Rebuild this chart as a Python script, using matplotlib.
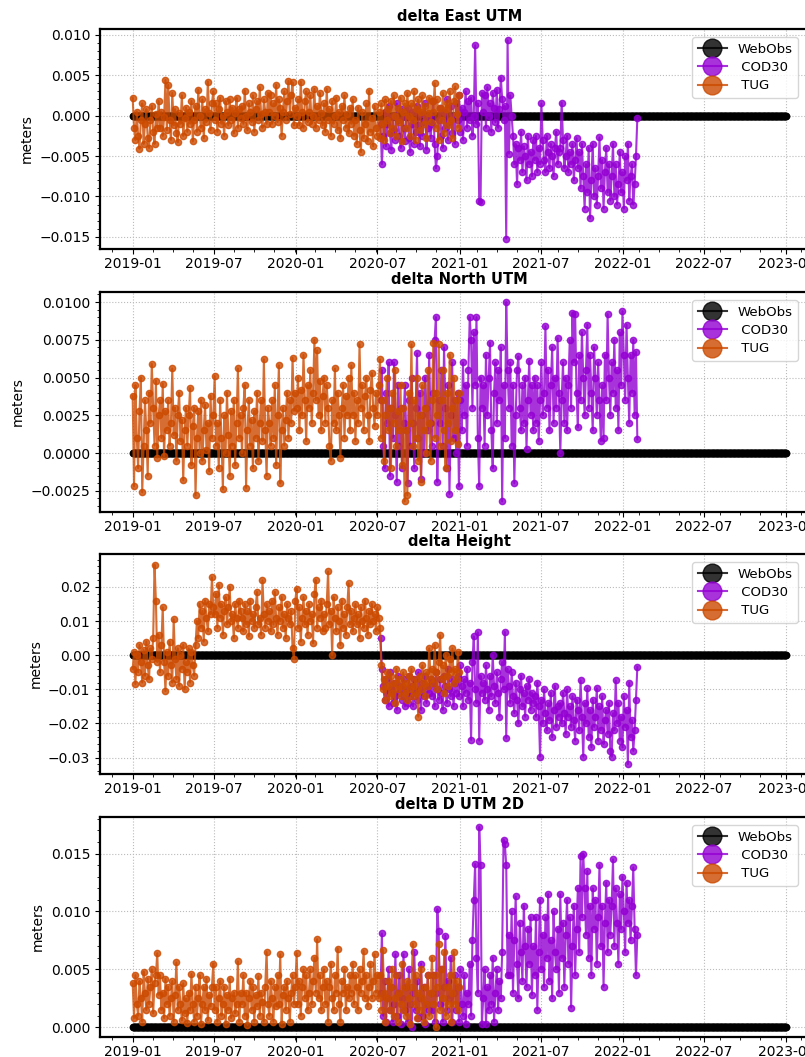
import matplotlib
matplotlib.use('Agg')
import matplotlib.pyplot as plt
import numpy as np
import pandas as pd
from matplotlib.ticker import AutoMinorLocator

# ---- data (millimetres, roughly every 3 days) ----
tug_start, tug_end = '2019-01-01', '2020-12-31'
cod_start, cod_end = '2020-07-08', '2022-02-02'
web_start, web_end = '2019-01-01', '2023-01-01'

tug_east = [
    2.2, -1.5, -3.0, 0.5, -2.5, -4.1, -0.5, 1.5, -3.5, -1.0, 0.8, -2.8, -4.0, -0.5, 1.2, -2.0, -3.5, 0.2, -1.5, 1.8,
    -1.5, 0.5, -2.5, -0.2, 4.4, -1.8, 3.8, -0.5, -3.0, 2.8, -1.2, 0.8, -2.2, -3.3, 0.3, -1.0, 2.5, -2.5, -0.3, 1.0,
    -2.0, 0.5, -1.0, 1.8, -3.2, -0.5, 1.2, -2.0, 3.2, 0.0, -1.5, 2.0, -2.8, 0.8, -0.8, 4.2, 0.3, -1.8, 1.5, 3.0,
    -0.5, 1.5, -2.0, 0.8, 2.2, -1.0, 0.0, -2.5, 1.8, 0.5, -1.2, 2.0, -0.5, 1.0, -2.2, 0.3, 2.2, -1.5, 0.8, -0.3,
    1.2, -1.0, 3.1, 0.0, -1.8, 1.5, 0.5, -0.8, 2.5, -2.0, 0.8, 1.8, -0.5, 3.5, 0.2, -1.5, 2.0, 0.5, -1.0, 2.8,
    0.5, 2.5, -1.0, 1.5, 0.0, 3.8, -0.8, 2.0, 1.0, -2.5, 0.5, 3.0, -0.5, 1.8, 4.3, 0.2, 2.5, 4.1, -1.2, 1.0,
    0.0, 2.0, -1.2, 4.2, 0.5, -1.5, 1.8, 3.0, -0.8, 0.5, 2.5, -1.0, 0.0, 3.3, -1.5, 1.2, -0.5, 2.8, 0.3, -1.2,
    1.5, -2.0, 3.3, -0.5, 0.8, -2.5, 1.8, -1.0, 0.0, 2.2, -1.8, 0.5, -2.8, 1.2, -0.5, 2.5, -1.5, 0.2, -2.2, 1.0,
    -1.0, 2.0, -2.5, -0.5, -3.5, 1.0, -1.8, -4.5, 0.5, -2.8, -1.0, 1.5, -3.2, 3.1, -2.0, -0.3, -3.8, 1.2, -1.5, -2.5,
    0.5, -2.8, 1.5, -1.0, -3.0, 2.0, -0.5, 0.8, -2.2, 1.8, -1.5, 2.5, 0.0, -2.5, 1.0, -0.8, 2.2, -3.2, 0.5, 1.5,
    -1.5, 2.8, 0.0, -2.5, 1.5, -0.5, 3.0, -3.0, 0.8, 2.0, -1.8, 0.5, 2.5, -1.0, 1.2, -2.8, 0.3, 2.2, -0.8, 1.8,
    0.5, 4.0, -1.5, 2.0, -3.0, 1.0, -0.5, 2.8, -2.2, 0.8, 1.5, -1.2, 3.0, -0.5, -2.8, 1.8, 3.6, 0.2, -1.5, 2.5]
cod_east = [
    -1.0, -6.0, -2.5, 0.5, -3.8, -1.0, 1.2, -2.2, -4.2, 0.0, -1.8, -3.0, 1.5, -0.5, -2.5, -4.0, 0.8, -1.5, -3.2,
    -0.2, 1.0, -2.8, -4.5, -1.0, 0.5, -3.5, -2.0, 1.2, -1.2, -3.8, 0.2, -2.5, -0.8, 1.5, -4.2, -1.5, 0.0, -2.8,
    -1.0, 1.8, -3.5, -6.5, -5.0, -0.5, 1.0, -2.5, -4.0, 0.5, -1.5, 2.0, -3.0, -0.8, 1.2, -2.2, 0.0, -3.5, 1.5,
    -0.5, 2.5, -2.0, 1.0, -3.0, 0.5, 3.0, -1.5, 1.8, -0.5, 2.2, -2.5, 0.0, 8.7, -1.0, 1.5, -10.5, -10.7, 2.8,
    0.5, 2.5, -1.5, 3.5, 0.0, 1.5, -2.0, 2.8, 1.0, -0.8, 3.2, -1.5, 0.8, 4.7, 2.0, -0.5, 1.2, -15.2, 9.3,
    -4.7, 2.5, 0.0, -2.5, -6.0, -3.5, -8.5, -4.0, -5.5, -2.0, -7.0, -3.8, -5.0, -8.0, -2.5, -6.0, -4.5, -7.5, -3.0,
    -5.5, -2.5, -7.0, -4.0, -6.0, 1.5, -3.0, -5.5, -7.0, -2.5, -4.5, -6.5, -3.5, -5.0, -7.5, -4.0, -2.0, -6.0, -4.5,
    -4.0, 1.6, -3.0, -6.5, -5.0, -2.5, -7.0, -4.5, -6.0, -3.5, -8.0, -5.5, -2.8, -6.5, -4.5, -9.0, -3.5, -7.5, -11.5,
    -6.0, -9.5, -4.0, -12.7, -8.0, -3.5, -10.0, -6.5, -11.0, -7.5, -2.7, -9.0, -5.5, -11.5, -7.0, -4.0, -9.5, -6.0, -10.5,
    -7.5, -3.5, -10.0, -6.0, -11.0, -8.5, -4.5, -9.5, -7.0, -11.5, -5.0, -8.0, -3.5, -10.5, -7.5, -6.0, -11.0, -8.5, -5.0, -0.3]

tug_north = [
    3.8, -2.2, 4.5, 1.0, -1.0, 2.8, 5.0, -2.6, 0.5, 3.5, 1.5, -1.5, 4.0, 2.0, 5.9, 3.0, 0.5, 4.8, -0.3, 2.5,
    3.5, 1.0, 4.6, -0.2, 2.8, 1.5, 3.5, 0.5, 2.0, 5.6, 1.2, 3.0, -0.5, 2.5, 4.0, 0.8, 2.2, -1.8, 1.5, 3.0,
    0.5, 2.5, 4.3, -0.8, 1.8, 3.0, -2.8, 1.0, 2.8, 0.0, 3.5, -0.5, 1.5, 3.2, 0.2, 2.0, -1.2, 3.8, 1.0, 2.5,
    5.1, 0.5, 2.0, -1.0, 3.5, 1.0, -2.4, 2.5, 0.0, 4.0, 1.2, -1.5, 2.8, 0.5, 3.5, -0.8, 2.0, 5.6, 1.0, 2.5,
    0.0, 3.0, 4.5, -2.3, 1.5, 3.5, 0.5, 2.2, -1.0, 2.8, 1.0, 4.0, -0.5, 2.0, 3.5, 0.8, 6.2, 1.5, -1.5, 3.0,
    2.0, 0.5, 3.5, 1.0, 4.5, -0.8, 2.5, 5.8, -2.0, 1.5, 3.0, 0.5, 2.2, 4.0, 1.0, 3.5, 2.0, 6.3, 2.8, 4.0,
    3.0, 5.0, 1.5, 4.2, 2.5, 6.5, 3.5, 0.8, 4.5, 3.0, 5.5, 2.0, 4.0, 7.5, 3.5, 6.8, 2.5, 4.8, 1.5, 3.8,
    5.0, 2.0, 4.5, 3.0, 0.5, -0.5, 3.5, 2.0, 5.6, 1.5, 4.0, 2.5, -0.3, 3.0, 4.5, 1.0, 3.8, 2.5, 5.0, 1.5,
    5.8, 2.5, 4.0, 0.8, 3.5, 2.0, 7.2, 3.0, 4.5, 1.5, 3.8, 5.0, 2.5, 0.8, 4.2, 5.3, 3.0, 1.8, 4.0, 2.5,
    4.5, 6.2, 1.0, 3.5, -0.5, 2.5, 5.0, 1.5, 3.0, -1.0, 4.0, 2.0, 5.5, 0.5, 2.8, 1.5, 4.5, -0.8, 3.0, -3.2,
    1.5, -2.8, 4.0, 2.0, 7.2, 0.5, 3.5, 1.0, 5.0, -0.5, 2.5, -1.9, 4.5, 1.5, 3.0, 0.0, 5.5, 2.0, -0.5, 3.5,
    7.3, 1.0, 4.0, 2.5, 7.2, 0.5, 3.5, 5.5, 1.5, -1.0, 4.0, 2.0, 6.5, 0.8, 3.0, 5.0, 1.5, 3.5, 0.6, 4.0]
cod_north = [
    3.5, 5.5, 0.5, -1.0, 4.0, 2.0, 6.0, -1.5, 3.0, 1.0, 6.0, 2.5, -1.9, 4.5, 0.5, 3.0, -1.0, 2.0, 4.5,
    1.5, -2.0, 3.5, 0.5, 5.0, 2.0, -1.0, 3.0, 6.6, 1.0, 4.0, -1.7, 2.5, 0.0, 5.0, 3.0, 1.5, 6.5, 2.0,
    0.5, 4.0, 7.5, 9.0, -1.9, 3.5, 2.0, 5.5, 0.5, 7.0, 3.0, -1.0, 4.5, -2.7, 2.5, 6.0, 1.0, 3.5, 0.0,
    4.0, -2.2, 3.5, 1.5, 6.0, 2.5, 4.5, 0.5, 5.5, 9.0, 7.5, 3.0, 8.0, 4.5, 9.0, 1.0, -2.2, 5.0, 3.0,
    4.5, 0.5, 6.5, 2.5, 5.0, 7.3, 1.5, -1.0, 4.0, 6.0, 2.0, 5.5, 3.5, 7.0, -3.2, 4.5, 1.0, 10.0, 5.5,
    3.0, 6.0, 0.5, 4.5, -2.0, 2.5, 5.5, 6.4, 3.0, 1.5, 4.5, 2.0, 5.0, 0.3, 3.5, 6.1, 2.5, 4.5, 1.5,
    5.0, 2.0, 4.5, 0.8, 3.5, 6.0, 2.5, 4.0, 8.4, 3.0, 5.5, 1.5, 4.5, 7.0, 2.0, 5.0, 3.0, 7.6, 4.0,
    0.0, 3.5, 6.0, 2.0, 5.0, 1.5, 4.5, 7.5, 3.0, 9.3, 6.0, 9.2, 4.0, 1.7, 6.5, 3.5, 8.0, 5.0, 2.5,
    5.5, 8.5, 3.0, 6.5, 4.0, 1.5, 7.0, 5.0, 2.5, 6.0, 3.5, 0.8, 4.5, 1.0, 6.5, 3.5, 9.2, 5.0, 2.5,
    6.0, 4.0, 7.5, 3.0, 5.5, 1.5, 8.0, 4.5, 9.4, 6.5, 3.5, 8.5, 5.0, 2.0, 6.5, 4.0, 7.5, 2.5, 6.7, 0.9]

tug_height = [
    -4, 1, -8.5, 0, -5, 3, -2, -8, 1.5, -6, 4, -3, -7, 2, -1, 5, 26.5, 16, -2, 6,
    -5, 3, 14, -2, -10.5, 1, -6, 4, -3, -8, 10.5, -1, -7, 2, -9, 0, -4, 3, -10, -2,
    -5, 2, -8, 1, -3, -6, 3, 10, 5, 15, 8, 13, 4, 16, 11, 7, 15, 12, 22.8, 14,
    12, 18, 8, 20.5, 11, 15, 6, 13, 17, 9, 14, 20, 10, 12, 5, 15, 11, 8, 16, 13,
    11, 7, 15, 9, 13, 5.5, 16, 10, 12, 8, 14, 18.5, 9, 11, 6, 21.9, 12, 8, 15, 10,
    13, 7, 16, 9, 18.5, 11, 6, 14, 10, 17, 8, 12, 5, 15, 11, 9, 13, 2, -1, 16,
    19.5, 8, 14, 4, 11, 17, 9, 13, 6, 15, 10, 12, 3.5, 18, 22, 8, 14, 11, 16, 7,
    12, 8, 15, 24.5, 9, 13, 0, 17, 11, 7, 14, 10, 3, 16, 8, 12, 6, 14, 21, 9,
    13, 7, 11, 15, 9, 12, 5, 14, 10, 8, 16, 11, 6, 13, 9, 15, 10, 12, 7, 14,
    11, 8, -3, -10, -7, -13, -5, -9, -12, -6, -11, -8, -14, -4, -10, -7, -12, -9, -5, -11,
    -8, -13, -6, -10, -4, -12, -9, -7, -11, -18, -6, -10, -3, -8, -12, -5, -9, 2, -7, -4,
    -8, 3, -5, -10, -2, 5.8, -7, -3, -11, 0, -6, -9, -1, -5, 2, -8, -4, -7, 1, -5]
cod_height = [
    5, -4, -9, -13, -7, -11, -15, -5, -10, -14, -8, -12, -16, -6, -11, -9, -13, -7, -15,
    -10, -14, -6, -12, -9, -15, -7, -11, -13, -5, -10, -16, -8, -12, -6, -14, -9, -11, -7,
    -12, -8, -15, -5, -10, -13, -7, -11, -16, -6, -9, -14, -4, -10, -12, -7, -15, -8, -11,
    -6, -12, -3, -9, -15, -7, -11, -4, -13, -8, -24.8, -2, 5.5, -10, -14, 6.7, -25.0, -6, -11,
    -8, -13, -3, -10, -16, -6, -12, 0, -9, -14, -5, -11, -18, -7, -2, -10, 6.8, -24.2, -4,
    -9, -14, -5, -12, -17, -8, -13, -20, -10, -6, -15, -11, -18, -9, -13, -7, -16, -11, -14,
    -12, -18, -8, -15, -29.7, -13, -20, -10, -17, -22, -14, -19, -11, -24, -16, -9, -21, -15, -18,
    -14, -20, -11, -17, -23, -10, -18, -15, -21, -12, -19, -25, -13, -16, -22, -7.4, -18, -29.7, -14,
    -20, -9.7, -24, -16, -27, -13, -21, -18, -9.7, -25, -15, -22, -12, -26, -19, -16, -23, -14, -28,
    -29.7, -17, -22, -7.4, -20, -14, -25, -18, -27, -12, -21, -16, -31.9, -8, -24, -19, -28, -22, -13, -3.5]

tug_d2d = [
    3.8, 0.8, 4.5, 2.0, 1.0, 4.0, 2.5, 0.5, 4.8, 3.0, 1.5, 4.2, 2.0, 3.5, 5.0, 1.2, 3.8, 4.5, 6.4, 2.8,
    4.5, 1.5, 3.0, 0.8, 4.2, 2.0, 3.5, 1.0, 2.5, 4.0, 0.5, 2.8, 5.6, 1.5, 3.5, 2.0, 0.6, 3.8, 1.2, 2.5,
    0.4, 3.0, 1.5, 4.6, 2.0, 0.5, 3.5, 1.0, 2.5, 4.5, 0.3, 2.0, 3.5, 1.5, 4.2, 0.6, 2.8, 1.8, 3.5, 5.5,
    1.5, 3.5, 0.5, 2.5, 4.0, 1.0, 2.0, 3.5, 0.3, 2.8, 1.5, 4.2, 0.8, 2.5, 3.0, 1.2, 2.0, 5.7, 0.5, 3.0,
    2.0, 4.5, 1.0, 3.0, 0.2, 2.5, 4.0, 1.5, 3.5, 0.5, 2.8, 1.8, 4.4, 1.0, 3.0, 2.2, 0.5, 3.5, 6.5, 2.0,
    1.0, 4.0, 2.5, 0.5, 3.5, 1.8, 4.5, 2.0, 6.3, 0.3, 2.8, 3.5, 1.5, 4.0, 2.5, 0.5, 3.0, 4.5, 2.0, 3.5,
    6.4, 2.0, 4.0, 1.0, 3.5, 5.0, 2.5, 4.5, 1.5, 3.0, 5.0, 2.0, 4.0, 6.0, 3.0, 7.6, 2.5, 4.5, 1.5, 3.5,
    5.0, 2.0, 4.0, 0.5, 3.5, 5.5, 2.5, 1.5, 4.5, 3.0, 6.8, 2.0, 0.5, 4.0, 3.0, 5.0, 1.5, 3.5, 2.5, 4.5,
    3.0, 5.5, 2.0, 4.5, 3.5, 1.5, 5.0, 3.0, 4.0, 6.6, 2.5, 4.5, 1.8, 3.5, 5.5, 2.5, 4.0, 6.3, 3.0, 4.5,
    2.5, 4.5, 1.5, 6.7, 3.0, 0.5, 2.5, 4.0, 1.5, 3.5, 5.0, 1.0, 2.5, 4.5, 0.5, 3.0, 2.0, 5.5, 1.5, 3.5,
    1.0, 4.0, 2.5, 0.3, 3.5, 7.2, 2.0, 4.5, 0.8, 3.0, 1.5, 5.0, 2.5, 0.5, 3.5, 2.0, 4.5, 1.0, 3.0, 6.0,
    2.0, 4.5, 0.0, 3.5, 7.2, 1.5, 5.0, 2.5, 6.5, 1.0, 3.5, 2.0, 4.5, 0.5, 3.0, 6.5, 2.0, 4.0, 1.5, 3.5]
cod_d2d = [
    3.0, 8.1, 1.0, 4.0, 0.5, 2.5, 5.0, 1.5, 3.5, 0.5, 2.0, 6.3, 1.0, 3.0, 4.5, 0.3, 2.5, 6.3, 1.5,
    3.5, 0.5, 5.0, 2.0, 0.0, 3.0, 6.5, 1.5, 4.0, 0.8, 2.5, 5.5, 1.0, 3.5, 0.3, 2.0, 4.5, 1.5, 3.0,
    1.5, 4.5, 0.5, 3.0, 10.2, 8.3, 2.0, 5.0, 0.5, 3.5, 7.9, 1.5, 4.0, 2.5, 6.0, 0.5, 3.0, 4.5, 1.5,
    3.5, 0.5, 5.0, 2.0, 1.0, 4.5, 0.3, 3.0, 2.0, 5.5, 1.0, 7.5, 11.0, 14.1, 6.0, 3.0, 17.3, 14.0, 0.3,
    2.5, 5.0, 0.3, 3.5, 1.5, 4.5, 2.0, 6.0, 0.5, 3.0, 5.0, 1.5, 4.0, 2.5, 6.5, 16.2, 15.8, 14.0, 4.5,
    8.0, 4.5, 10.0, 3.0, 7.5, 11.3, 5.5, 2.5, 9.0, 6.5, 4.0, 10.5, 7.0, 3.5, 8.5, 5.5, 9.5, 2.8, 7.0,
    4.5, 9.5, 1.5, 6.5, 11.0, 5.0, 8.0, 3.5, 9.5, 6.0, 11.5, 4.0, 7.5, 2.5, 10.0, 6.5, 5.0, 8.5, 3.0,
    11.5, 6.0, 9.0, 3.5, 8.0, 11.0, 5.5, 9.5, 1.7, 7.0, 10.5, 4.5, 8.5, 12.0, 6.5, 14.8, 9.5, 15.0, 12.0,
    8.0, 13.5, 6.0, 10.5, 4.5, 12.0, 8.5, 11.0, 5.5, 9.5, 14.0, 7.0, 10.5, 3.5, 9.0, 12.5, 6.5, 11.0, 8.0,
    10.5, 14.5, 7.0, 12.0, 9.0, 5.5, 11.5, 8.5, 13.0, 10.0, 6.5, 12.5, 9.0, 11.0, 7.5, 10.5, 13.8, 8.5, 4.5, 8.0]

titles = ['delta East UTM', 'delta North UTM', 'delta Height', 'delta D UTM 2D']
tug_series = [tug_east, tug_north, tug_height, tug_d2d]
cod_series = [cod_east, cod_north, cod_height, cod_d2d]
ylims = [(-0.0165, 0.0107), (-0.0039, 0.01066), (-0.0348, 0.0296), (-0.00084, 0.01815)]

web_dates = pd.date_range(web_start, web_end, freq='D')
web_vals = np.zeros(len(web_dates))

fig = plt.figure(figsize=(8.05, 10.57), dpi=100)

# axes run past the right edge: the original picture was cropped there
bottoms = [0.7644, 0.5156, 0.2677, 0.0189]

for i in range(4):
    ax = fig.add_axes([0.1242, bottoms[i], 0.8932, 0.2081])
    tug = np.array(tug_series[i]) / 1000.0
    cod = np.array(cod_series[i]) / 1000.0
    tug_dates = pd.date_range(tug_start, tug_end, periods=len(tug))
    cod_dates = pd.date_range(cod_start, cod_end, periods=len(cod))

    ax.plot(web_dates, web_vals, 'o-', color='black', alpha=0.8, ms=4.5, lw=1.5, label='WebObs', zorder=2)
    ax.plot(cod_dates, cod, 'o-', color='darkviolet', alpha=0.8, ms=4.5, lw=1.5, label=' COD30', zorder=3)
    ax.plot(tug_dates, tug, 'o-', color='#cc4a00', alpha=0.8, ms=4.5, lw=1.5, label=' TUG', zorder=4)

    ax.set_ylim(*ylims[i])
    ax.set_title(titles[i], fontsize=10.5, fontweight='bold', pad=6)
    ax.set_ylabel('meters', fontsize=10)
    ax.grid(True, linestyle=':', color='#bbbbbb', linewidth=0.8)
    ax.xaxis.set_minor_locator(AutoMinorLocator(4))
    ax.yaxis.set_minor_locator(AutoMinorLocator())
    ax.tick_params(labelsize=10)
    ax.tick_params(axis='x', pad=2.5)
    for s in ax.spines.values():
        s.set_linewidth(1.6)
    ax.legend(loc='upper left', bbox_to_anchor=(0.824, 0.962), borderaxespad=0,
              fontsize=9.5, markerscale=3, handlelength=2.2, labelspacing=0.4)

fig.savefig('out.png', dpi=100)
